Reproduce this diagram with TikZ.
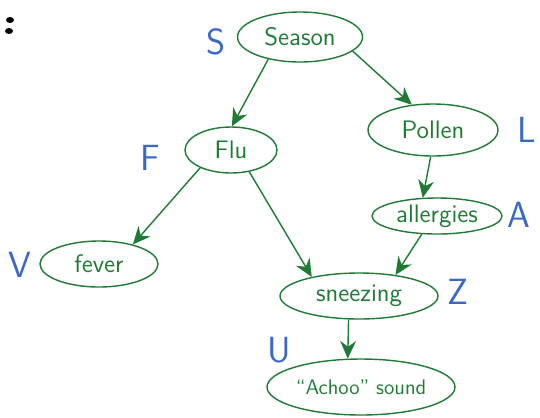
\documentclass[tikz,border=0pt]{standalone}
\usetikzlibrary{positioning, arrows.meta, shapes.geometric}
\definecolor{netGreen}{HTML}{1E7A35}
\definecolor{varBlue}{HTML}{3B68C6}

\begin{document}
\begin{tikzpicture}[x=0.02cm, y=-0.02cm, font=\Large\sffamily,
    var/.style={ellipse, draw=netGreen, thick, text=netGreen, inner sep=0pt},
    letter/.style={text=varBlue, font=\huge\sffamily},
    edge/.style={-{Stealth[length=10pt, width=9pt]}, netGreen, thick}]
    \useasboundingbox (0,0) rectangle (540,417);
    % stray ink mark
    \fill[black] (10,20) ellipse (4 and 3);
    \fill[black] (9,31) ellipse (4 and 3);
    % variables
    \node[var, minimum width=2.5cm, minimum height=1cm] (season) at (300,37) {Season};
    \node[var, minimum width=2.6cm, minimum height=1.04cm] (pollen) at (433,130) {Pollen};
    \node[var, minimum width=1.84cm, minimum height=0.92cm] (flu) at (231,150) {Flu};
    \node[var, minimum width=2.6cm, minimum height=0.72cm] (allergies) at (437,216) {allergies};
    \node[var, minimum width=2.36cm, minimum height=0.92cm] (fever) at (99,264) {fever};
    \node[var, minimum width=3.16cm, minimum height=0.92cm] (sneezing) at (359,296) {sneezing};
    \node[var, minimum width=3.76cm, minimum height=1.12cm, font=\large\sffamily] (achoo) at (361,387) {``Achoo'' sound};
    % letters
    \node[letter] (ls) at (216,42) {S};
    \node[letter] (ll) at (527,130) {L};
    \node[letter] (lf) at (150,158) {F};
    \node[letter] (la) at (519,215) {A};
    \node[letter] (lv) at (20,265) {V};
    \node[letter] (lz) at (458,292) {Z};
    \node[letter] (lu) at (279,350) {U};
    % edges
    \draw[edge] (season.215) -- (flu.88);
    \draw[edge] (season.345) -- (pollen.130);
    \draw[edge] (flu.210) -- (fever.30);
    \draw[edge] (flu.310) -- (sneezing.158);
    \draw[edge] (pollen.265) -- (allergies.128);
    \draw[edge] (allergies.230) -- (sneezing.30);
    \draw[edge] (sneezing.246) -- (achoo.115);
\end{tikzpicture}
\end{document}
